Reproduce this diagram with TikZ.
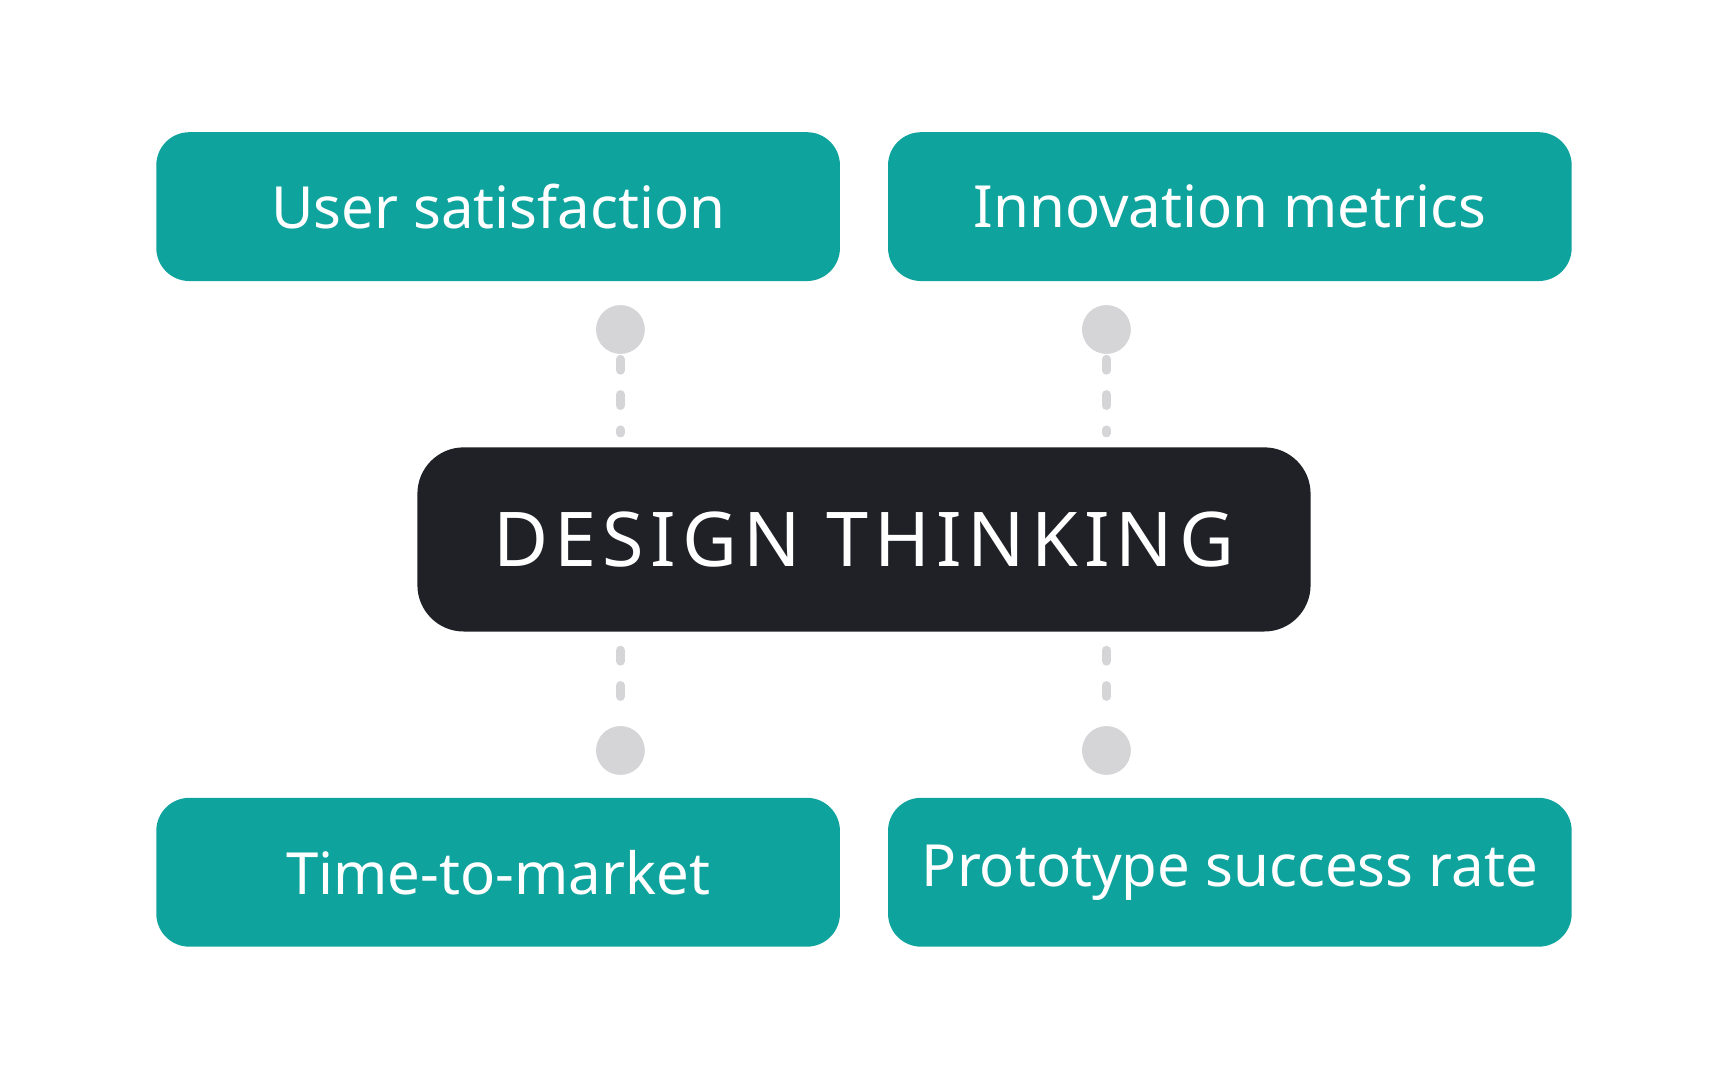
\documentclass[tikz,border=0pt]{standalone}
\usepackage{fontspec}
\setmainfont{Noto Sans}
\newfontfamily\titlefont[LetterSpace=8]{Noto Sans}
\definecolor{teal}{HTML}{0FA39E}
\definecolor{dark}{HTML}{202127}
\definecolor{dotgray}{HTML}{D5D5D8}
\begin{document}
\begin{tikzpicture}[x=0.01cm,y=-0.01cm,
  metric/.style={fill=teal,rounded corners=0.3cm,minimum width=6.2cm,minimum height=1.35cm,text=white,font=\fontsize{15}{18}\selectfont,inner sep=0pt},
  hub/.style={fill=dark,rounded corners=0.42cm,minimum width=8.1cm,minimum height=1.67cm,text=white,font=\titlefont\bfseries\fontsize{19.5}{22}\selectfont,inner sep=0pt},
  dot/.style={circle,fill=dotgray,minimum size=0.44cm,inner sep=0pt},
  link/.style={draw=dotgray,line width=0.08cm,line cap=round,dash pattern=on 0.1cm off 0.22cm}]
\useasboundingbox (0,0) rectangle (1568,980);
\node[metric] (us) at (452,187.5) {User satisfaction};
\node[metric] (im) at (1116,187.5) {Innovation metrics};
\node[metric] (tm) at (452,791.5) {Time-to-market};
\node[metric] (ps) at (1116,791.5) {Prototype success rate};
\node[hub] (dt) at (784,489.5) {DESIGN THINKING};
\node[dot] (d1) at (563,299) {};
\node[dot] (d2) at (1004,299) {};
\node[dot] (d3) at (563,681) {};
\node[dot] (d4) at (1004,681) {};
\coordinate (c1) at (563,393);
\coordinate (c2) at (1004,393);
\coordinate (c3) at (563,590);
\coordinate (c4) at (1004,590);
\draw[link] (d1.center) ++(0,27) -- (c1);
\draw[link] (d2.center) ++(0,27) -- (c2);
\draw[link] (c3) -- ([yshift=0.27cm]d3.center);
\draw[link] (c4) -- ([yshift=0.27cm]d4.center);
\node[dot] at (d1) {};
\node[dot] at (d2) {};
\node[dot] at (d3) {};
\node[dot] at (d4) {};
\end{tikzpicture}
\end{document}
